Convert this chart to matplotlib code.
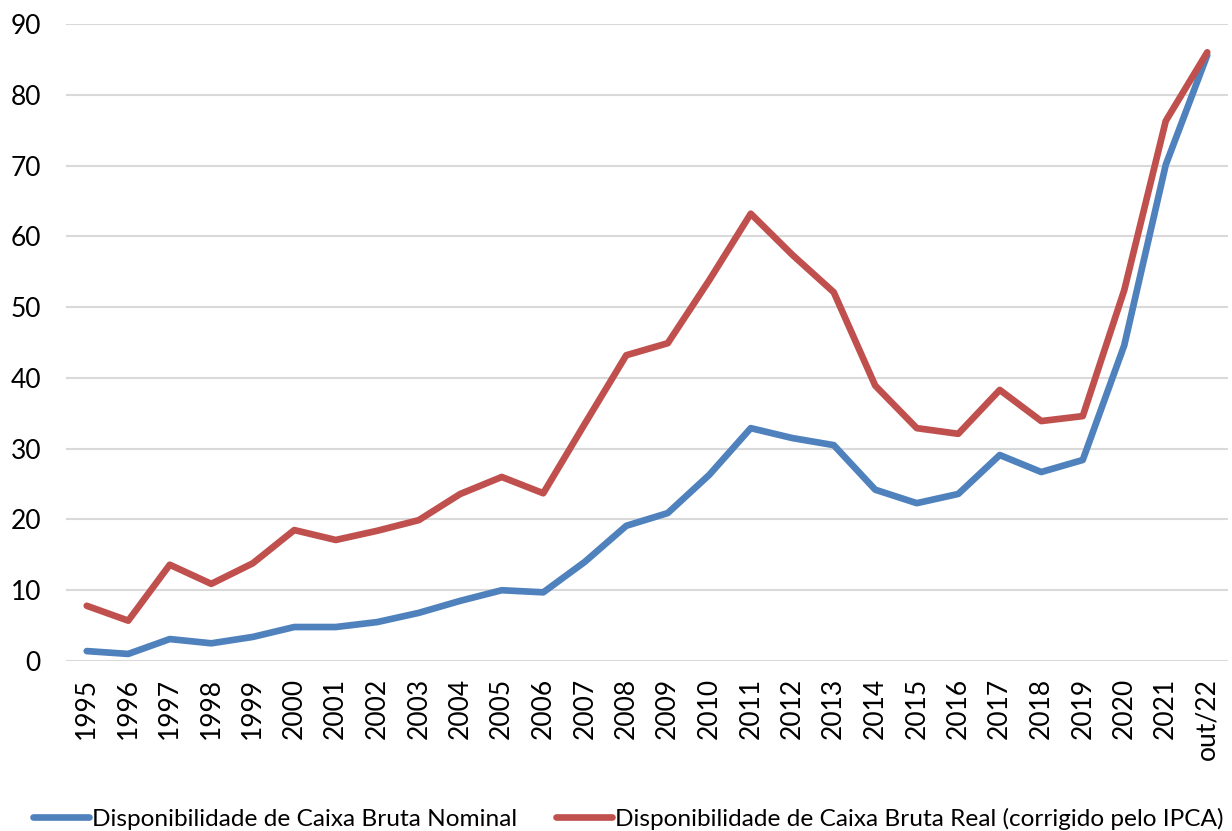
import matplotlib
matplotlib.use("Agg")
from matplotlib import pyplot as plt

plt.rcParams['font.family'] = ['Lato', 'DejaVu Sans']

anos = ['1995', '1996', '1997', '1998', '1999', '2000', '2001', '2002', '2003',
        '2004', '2005', '2006', '2007', '2008', '2009', '2010', '2011', '2012',
        '2013', '2014', '2015', '2016', '2017', '2018', '2019', '2020', '2021',
        'out/22']
nominal = [1.4, 1.0, 3.1, 2.5, 3.4, 4.8, 4.8, 5.5, 6.8, 8.5, 10.0, 9.7, 14.0,
           19.1, 20.9, 26.3, 32.9, 31.5, 30.5, 24.2, 22.3, 23.6, 29.1, 26.7,
           28.4, 44.6, 70.1, 85.6]
real = [7.8, 5.7, 13.6, 10.9, 13.8, 18.5, 17.1, 18.4, 19.9, 23.6, 26.0, 23.7,
        33.5, 43.2, 44.9, 53.8, 63.2, 57.4, 52.1, 38.9, 32.9, 32.1, 38.3, 33.9,
        34.6, 52.4, 76.3, 86.0]

fig = plt.figure(figsize=(12.32, 8.31), dpi=100)
ax = fig.add_axes([66/1232, 1-661/831, (1228-66)/1232, (661-24)/831])

x = range(len(anos))
ax.plot(x, nominal, color='#4F81BD', lw=4.8, solid_capstyle='round',
        solid_joinstyle='round', label='Disponibilidade de Caixa Bruta Nominal')
ax.plot(x, real, color='#C0504D', lw=4.8, solid_capstyle='round',
        solid_joinstyle='round',
        label='Disponibilidade de Caixa Bruta Real (corrigido pelo IPCA)')

ax.set_xlim(-0.5, len(anos) - 0.5)
ax.set_ylim(0, 90)
ax.set_yticks(range(0, 91, 10))
ax.set_xticks(list(x))
ax.set_xticklabels(anos, rotation=90)
ax.tick_params(length=0, labelsize=19, colors='black')
ax.tick_params(axis='y', pad=18)
ax.tick_params(axis='x', pad=12)
ax.grid(axis='y', color='#D9D9D9', lw=1.5)
ax.set_axisbelow(True)
for s in ax.spines.values():
    s.set_visible(False)

fig.legend(loc='lower center', bbox_to_anchor=(0.51, -0.025), ncol=2,
           frameon=False, fontsize=17.6, handlelength=2.3, handletextpad=0.12,
           columnspacing=1.6)

fig.savefig('out.png', dpi=100)
